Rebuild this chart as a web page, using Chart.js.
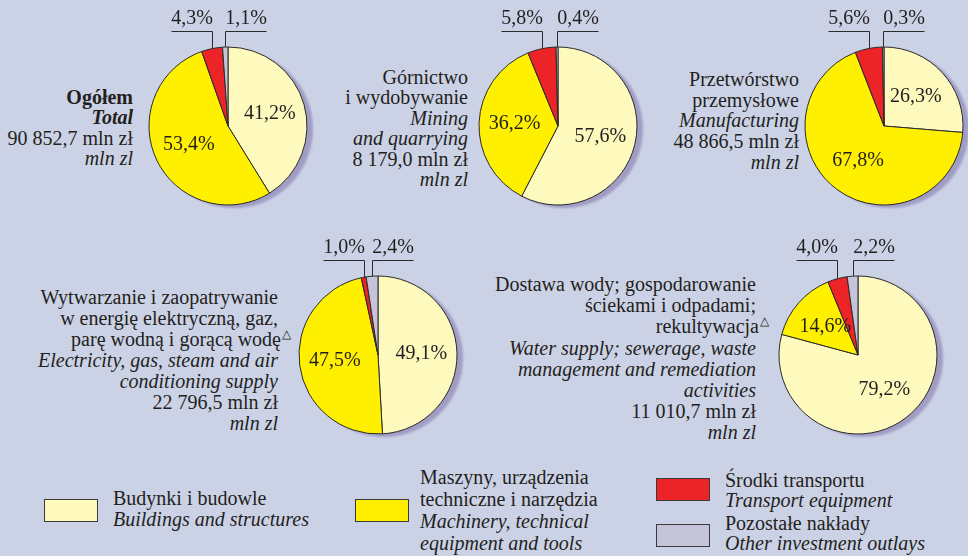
<!DOCTYPE html>
<html lang="pl">
<head>
<meta charset="utf-8">
<script src="https://cdn.jsdelivr.net/npm/chart.js@4.4.1/dist/chart.umd.min.js"></script>
<style>
  html, body { margin: 0; padding: 0; }
  body { width: 968px; height: 556px; overflow: hidden; background: #ccd2e6; }
  #page { position: relative; width: 968px; height: 556px; overflow: hidden;
          font-family: "Liberation Serif", "Times New Roman", serif; color: #231f20; }
  canvas { position: absolute; }
  .desc { position: absolute; text-align: right; font-size: 20px; white-space: nowrap; }
  .desc i { font-style: italic; }
  .tri { font-size: 12px; line-height: 0; position: relative; top: -8px; margin-right: -13px; margin-left: 1px; }
  .lg-box { position: absolute; width: 52px; height: 21px; border: 1.5px solid #3a3a3a; }
  .lg-text { position: absolute; font-size: 20px; white-space: pre-line; }
  .lg-text i { display: block; }
</style>
</head>
<body>
<div id="page">
  <div class="desc" style="right:835px; top:87px; line-height:20.4px;">
    <b>Ogółem</b><br><b><i>Total</i></b><br><span id="tot0"></span><br><i>mln zl</i>
  </div>
  <div class="desc" style="right:500px; top:67px; line-height:20.4px;">
    Górnictwo<br>i wydobywanie<br><i>Mining</i><br><i>and quarrying</i><br><span id="tot1"></span><br><i>mln zl</i>
  </div>
  <div class="desc" style="right:169px; top:69px; line-height:20.7px;">
    Przetwórstwo<br>przemysłowe<br><i>Manufacturing</i><br><span id="tot2"></span><br><i>mln zl</i>
  </div>
  <div class="desc" style="right:690px; top:287px; line-height:21px;">
    Wytwarzanie i zaopatrywanie<br>w energię elektryczną, gaz,<br>parę wodną i gorącą wodę<span class="tri">△</span><br><i>Electricity, gas, steam and air</i><br><i>conditioning supply</i><br><span id="tot3"></span><br><i>mln zl</i>
  </div>
  <div class="desc" style="right:212px; top:274px; line-height:21.2px;">
    Dostawa wody; gospodarowanie<br>ściekami i odpadami;<br>rekultywacja<span class="tri">△</span><br><i>Water supply; sewerage, waste</i><br><i>management and remediation</i><br><i>activities</i><br><span id="tot4"></span><br><i>mln zl</i>
  </div>
</div>
<script>
// shares of investment outlays by group, percent
const groupsPl = ['Budynki i budowle', 'Maszyny, urządzenia\ntechniczne i narzędzia', 'Środki transportu', 'Pozostałe nakłady'];
const groupsEn = ['Buildings and structures', 'Machinery, technical\nequipment and tools', 'Transport equipment', 'Other investment outlays'];
const groupColors = ['#fef9bd', '#fff000', '#ec2327', '#c6c4d8'];

const sharesTotal = [41.2, 53.4, 4.3, 1.1];
const sharesMining = [57.6, 36.2, 5.8, 0.4];
const sharesManufacturing = [26.3, 67.8, 5.6, 0.3];
const sharesEnergy = [49.1, 47.5, 1.0, 2.4];
const sharesWater = [79.2, 14.6, 4.0, 2.2];

// totals, mln zł
const totalsMln = [90852.7, 8179.0, 48866.5, 22796.5, 11010.7];

function fmtPct(v) {
  return v.toFixed(1).replace('.', ',') + '%';
}

function fmtTotal(v) {
  const parts = v.toFixed(1).split('.');
  const whole = parts[0].replace(/\B(?=(\d{3})+(?!\d))/g, ' ');
  return whole + ',' + parts[1] + ' mln zł';
}

totalsMln.forEach((t, i) => {
  document.getElementById('tot' + i).textContent = fmtTotal(t);
});

// shadow under the pie + percentage labels and leader lines
const pieDecor = {
  id: 'pieDecor',
  beforeDatasetsDraw(chart) {
    const ctx = chart.ctx;
    const arc = chart.getDatasetMeta(0).data[0];
    ctx.save();
    ctx.fillStyle = '#a09dc4';
    ctx.filter = 'blur(1px)';
    ctx.beginPath();
    ctx.arc(arc.x + 6, arc.y + 3, arc.outerRadius, 0, Math.PI * 2);
    ctx.fill();
    ctx.restore();
  },
  afterDatasetsDraw(chart) {
    const ctx = chart.ctx;
    const meta = chart.getDatasetMeta(0);
    const values = chart.data.datasets[0].data;
    ctx.save();
    ctx.font = '20px "Liberation Serif", "Times New Roman", serif';
    ctx.fillStyle = '#231f20';
    ctx.strokeStyle = '#2b2b2b';
    ctx.lineWidth = 1;
    ctx.textAlign = 'center';
    meta.data.forEach((el, i) => {
      const p = el.getProps(['x', 'y', 'startAngle', 'endAngle', 'outerRadius'], true);
      const mid = (p.startAngle + p.endAngle) / 2;
      const text = fmtPct(values[i]);
      if (i < 2) {
        ctx.textBaseline = 'middle';
        ctx.fillText(text, p.x + Math.cos(mid) * p.outerRadius * 0.55,
                     p.y + Math.sin(mid) * p.outerRadius * 0.55);
      } else {
        const px = Math.round(p.x + Math.cos(mid) * p.outerRadius) + 0.5;
        const py = p.y + Math.sin(mid) * p.outerRadius;
        const lineY = Math.round(p.y - p.outerRadius - 16) + 0.5;
        const dir = i === 2 ? -1 : 1;
        const ex = px + dir * 41;
        ctx.beginPath();
        ctx.moveTo(ex, lineY);
        ctx.lineTo(px, lineY);
        ctx.lineTo(px, py);
        ctx.stroke();
        ctx.textBaseline = 'alphabetic';
        ctx.fillText(text, (px + ex) / 2, lineY - 8);
      }
    });
    ctx.restore();
  }
};

const R = 79;
const pies = [
  { data: sharesTotal, cx: 228, cy: 126 },
  { data: sharesMining, cx: 558, cy: 126 },
  { data: sharesManufacturing, cx: 884, cy: 126 },
  { data: sharesEnergy, cx: 378, cy: 355 },
  { data: sharesWater, cx: 858, cy: 355 }
];

const page = document.getElementById('page');
pies.forEach(p => {
  const canvas = document.createElement('canvas');
  canvas.width = 200;
  canvas.height = 48 + 2 * R + 14;
  canvas.style.left = (p.cx - 100) + 'px';
  canvas.style.top = (p.cy - R - 48) + 'px';
  page.appendChild(canvas);
  new Chart(canvas.getContext('2d'), {
    type: 'pie',
    data: {
      labels: groupsPl,
      datasets: [{
        data: p.data,
        backgroundColor: groupColors,
        borderColor: '#2a2a2a',
        borderWidth: 1
      }]
    },
    options: {
      responsive: false,
      animation: false,
      radius: R,
      layout: { padding: { top: 48, bottom: 14, left: 0, right: 0 } },
      plugins: {
        legend: { display: false },
        tooltip: { enabled: false }
      }
    },
    plugins: [pieDecor]
  });
});

// legend
const legendPos = [
  { box: [44, 499], text: [113, 488], lh: 21 },
  { box: [355, 499], text: [420, 466], lh: 22 },
  { box: [656, 478], text: [725, 471], lh: 19.5 },
  { box: [656, 524], text: [725, 514], lh: 19.5 }
];
groupsPl.forEach((name, i) => {
  const pos = legendPos[i];
  const box = document.createElement('div');
  box.className = 'lg-box';
  box.style.left = pos.box[0] + 'px';
  box.style.top = pos.box[1] + 'px';
  box.style.background = groupColors[i];
  page.appendChild(box);
  const txt = document.createElement('div');
  txt.className = 'lg-text';
  txt.style.left = pos.text[0] + 'px';
  txt.style.top = pos.text[1] + 'px';
  txt.style.lineHeight = pos.lh + 'px';
  txt.textContent = name;
  const en = document.createElement('i');
  en.textContent = groupsEn[i];
  txt.appendChild(en);
  page.appendChild(txt);
});
</script>
</body>
</html>
